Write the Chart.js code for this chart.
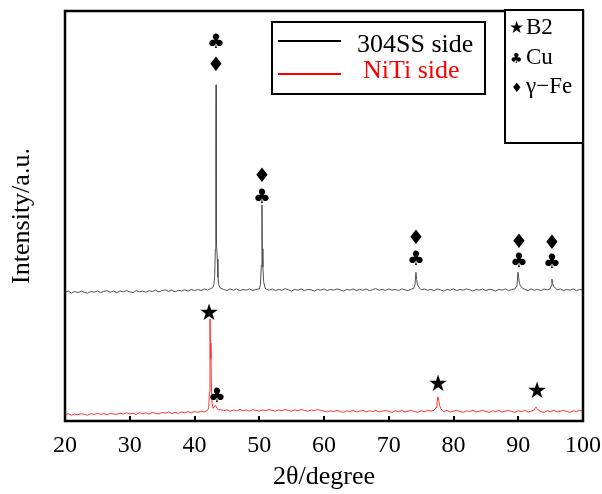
<!DOCTYPE html>
<html><head><meta charset="utf-8">
<script src="https://cdn.jsdelivr.net/npm/chart.js@4/dist/chart.umd.min.js"></script>
<style>html,body{margin:0;padding:0;background:#fff;overflow:hidden}</style>
</head><body>
<canvas id="c" width="602" height="494"></canvas>
<script>
// ---- data (2θ in degrees, intensity in arbitrary units) ----
const xTicks = [20, 30, 40, 50, 60, 70, 80, 90, 100];
const seriesLabels = ['304SS side', 'NiTi side'];
const xTitle = '2θ/degree';
const yTitle = 'Intensity/a.u.';

const ss304 = [[20,314],[20.5,317],[21,312],[21.5,316],[22,313],[22.5,317],[23,314],[23.5,312],[24,316],[24.5,314],[25,317],[25.5,313],[26,316],[26.5,318],[27,314],[27.5,317],[28,313],[28.5,317],[29,315],[29.5,318],[30,315],[30.5,313],[31,318],[31.5,315],[32,317],[32.5,314],[33,318],[33.5,316],[34,319],[34.5,315],[35,318],[35.5,320],[36,316],[36.5,319],[37,315],[37.5,319],[38,317],[38.5,320],[39,317],[39.5,321],[40,318],[40.5,321],[41,318],[41.5,322],[42,319],[42.5,323],[42.8,325],[43.0,333],[43.12,355],[43.22,420],[43.29,640],[43.33,820],[43.37,600],[43.43,430],[43.52,395],[43.62,350],[43.78,330],[44,324],[44.5,321],[45,318],[45.5,322],[46,319],[46.5,322],[47,318],[47.5,321],[48,319],[48.5,322],[49,318],[49.5,321],[50,322],[50.18,332],[50.32,380],[50.42,527],[50.48,420],[50.56,375],[50.68,340],[50.85,327],[51,322],[51.5,319],[52,322],[52.5,318],[53,321],[53.5,319],[54,323],[54.5,320],[55,317],[55.5,321],[56,319],[56.5,322],[57,318],[57.5,321],[58,320],[58.5,317],[59,321],[59.5,319],[60,322],[60.5,318],[61,321],[61.5,319],[62,322],[62.5,320],[63,317],[63.5,321],[64,319],[64.5,322],[65,318],[65.5,321],[66,319],[66.5,322],[67,318],[67.5,320],[68,323],[68.5,319],[69,321],[69.5,318],[70,322],[70.5,319],[71,321],[71.5,318],[72,322],[72.5,320],[73,318],[73.5,322],[73.85,323],[74.05,332],[74.2,363],[74.3,345],[74.45,332],[74.65,326],[74.85,323],[75,320],[75.5,322],[76,319],[76.5,321],[77,318],[77.5,322],[78,320],[78.5,317],[79,321],[79.5,319],[80,322],[80.5,318],[81,321],[81.5,319],[82,322],[82.5,320],[83,317],[83.5,321],[84,319],[84.5,322],[85,318],[85.5,321],[86,320],[86.5,317],[87,321],[87.5,319],[88,322],[88.5,318],[89,321],[89.5,322],[89.8,330],[89.96,363],[90.06,350],[90.2,335],[90.4,328],[90.7,324],[91,321],[91.5,318],[92,322],[92.5,319],[93,321],[93.5,318],[94,322],[94.5,320],[94.9,322],[95.08,330],[95.2,346],[95.3,336],[95.5,328],[95.8,323],[96,320],[96.5,322],[97,318],[97.5,321],[98,319],[98.5,322],[99,318],[99.5,321],[100,319]];

const niti = [[20,15],[20.5,18],[21,14],[21.5,17],[22,15],[22.5,18],[23,16],[23.5,14],[24,18],[24.5,16],[25,19],[25.5,16],[26,18],[26.5,15],[27,19],[27.5,17],[28,16],[28.5,19],[29,17],[29.5,20],[30,17],[30.5,19],[31,16],[31.5,20],[32,18],[32.5,20],[33,17],[33.5,21],[34,19],[34.5,17],[35,21],[35.5,19],[36,22],[36.5,18],[37,21],[37.5,19],[38,22],[38.5,20],[39,23],[39.5,20],[40,23],[40.5,21],[41,24],[41.5,22],[42,26],[42.2,32],[42.3,70],[42.39,249],[42.46,190],[42.54,150],[42.62,80],[42.72,42],[42.88,31],[43.05,34],[43.2,38],[43.35,35],[43.5,30],[43.75,27],[44,28],[44.5,25],[45,27],[45.5,24],[46,27],[46.5,25],[47,28],[47.5,25],[48,27],[48.5,24],[49,28],[49.5,26],[50,24],[50.5,27],[51,25],[51.5,28],[52,26],[52.5,24],[53,27],[53.5,25],[54,28],[54.5,26],[55,24],[55.5,27],[56,25],[56.5,28],[57,26],[57.5,24],[58,27],[58.5,25],[59,28],[59.5,26],[60,24],[60.5,22],[61,25],[61.5,23],[62,26],[62.5,23],[63,21],[63.5,25],[64,23],[64.5,26],[65,22],[65.5,24],[66,26],[66.5,22],[67,25],[67.5,23],[68,26],[68.5,22],[69,24],[69.5,26],[70,23],[70.5,21],[71,25],[71.5,23],[72,26],[72.5,22],[73,24],[73.5,26],[74,23],[74.5,21],[75,25],[75.5,23],[76,26],[76.5,24],[77,26],[77.3,33],[77.45,45],[77.6,59],[77.72,50],[77.85,38],[78.05,30],[78.3,25],[78.5,23],[79,26],[79.5,22],[80,24],[80.5,26],[81,23],[81.5,21],[82,25],[82.5,23],[83,26],[83.5,22],[84,24],[84.5,26],[85,23],[85.5,21],[86,25],[86.5,23],[87,26],[87.5,22],[88,24],[88.5,26],[89,23],[89.5,21],[90,25],[90.5,23],[91,26],[91.5,22],[92,24],[92.4,26],[92.6,31],[92.75,34],[92.9,30],[93.15,26],[93.5,23],[94,21],[94.5,25],[95,23],[95.5,26],[96,22],[96.5,24],[97,26],[97.5,23],[98,21],[98.5,25],[99,23],[99.5,26],[100,24]];

// peak identification symbols: 2θ, intensity, phase symbol
const peakX = [43.32, 43.32, 50.42, 50.42, 74.2, 74.2, 90.1, 90.1, 95.2, 95.2, 42.24, 43.47, 77.6, 92.9];
const peakY = [922, 866, 595, 544, 444, 393, 434, 388, 432, 385, 261, 59, 88, 71];
const peakSym = ['♣','♦','♦','♣','♦','♣','♦','♣','♦','♣','★','♣','★','★'];

const phaseSymbols = ['★', '♣', '♦'];
const phaseNames = ['B2', 'Cu', 'γ−Fe'];

const SERIF = '"Liberation Serif", "Times New Roman", serif';
const SYM = '"DejaVu Sans", sans-serif';

const framePlugin = {
  id: 'frame',
  afterDatasetsDraw(chart) {
    const {ctx, chartArea: a, scales} = chart;
    ctx.save();
    ctx.strokeStyle = '#000';
    ctx.lineWidth = 2.5;
    ctx.strokeRect(a.left, a.top, a.right - a.left, a.bottom - a.top);
    ctx.lineWidth = 2;
    xTicks.forEach(v => {
      const px = Math.round(scales.x.getPixelForValue(v));
      ctx.beginPath();
      ctx.moveTo(px, a.bottom);
      ctx.lineTo(px, a.bottom - 5);
      ctx.stroke();
    });
    ctx.restore();
  }
};

const marksPlugin = {
  id: 'marks',
  afterDatasetsDraw(chart) {
    const {ctx, scales} = chart;
    ctx.save();
    ctx.fillStyle = '#000';
    ctx.textAlign = 'center';
    ctx.textBaseline = 'middle';
    peakX.forEach((xv, i) => {
      const s = peakSym[i];
      ctx.font = (s === '★' ? '23px ' : '20px ') + SYM;
      ctx.fillText(s, scales.x.getPixelForValue(xv), scales.y.getPixelForValue(peakY[i]));
    });
    ctx.restore();
  }
};

const legendPlugin = {
  id: 'customLegends',
  afterDraw(chart) {
    const {ctx} = chart;
    const ds = chart.data.datasets;
    ctx.save();
    // series legend
    ctx.fillStyle = '#fff';
    ctx.fillRect(272, 22, 213, 72);
    ctx.strokeStyle = '#000';
    ctx.lineWidth = 2;
    ctx.strokeRect(272, 22, 213, 72);
    const rowsY = [41, 74];
    const textX = [357, 363];
    const textY = [52, 78];
    const legendColors = ['#000', '#ff0000'];
    ds.forEach((d, i) => {
      ctx.strokeStyle = legendColors[i];
      ctx.lineWidth = 2;
      ctx.beginPath();
      ctx.moveTo(278, rowsY[i]);
      ctx.lineTo(341, rowsY[i]);
      ctx.stroke();
      ctx.fillStyle = legendColors[i];
      ctx.font = '26px ' + SERIF;
      ctx.textAlign = 'left';
      ctx.textBaseline = 'alphabetic';
      ctx.fillText(d.label, textX[i], textY[i]);
    });
    // phase legend
    ctx.fillStyle = '#fff';
    ctx.fillRect(505, 10, 78, 133);
    ctx.strokeStyle = '#000';
    ctx.lineWidth = 2;
    ctx.strokeRect(505, 10, 78, 133);
    const baseY = [34, 64, 93];
    const symSize = [17, 14, 13];
    const symX = [509, 510, 511];
    phaseSymbols.forEach((s, i) => {
      ctx.fillStyle = '#000';
      ctx.textBaseline = 'alphabetic';
      ctx.textAlign = 'left';
      ctx.font = symSize[i] + 'px ' + SYM;
      ctx.fillText(s, symX[i], baseY[i] - 1);
      ctx.font = '23px ' + SERIF;
      ctx.fillText(phaseNames[i], 526, baseY[i]);
    });
    ctx.restore();
  }
};

new Chart(document.getElementById('c'), {
  type: 'line',
  data: {
    datasets: [
      {label: seriesLabels[0], data: ss304.map(([x, y]) => ({x, y})), borderColor: '#505050', borderWidth: 1, pointRadius: 0, tension: 0},
      {label: seriesLabels[1], data: niti.map(([x, y]) => ({x, y})), borderColor: '#ff3030', borderWidth: 1, pointRadius: 0, tension: 0}
    ]
  },
  options: {
    responsive: false, animation: false, devicePixelRatio: 1,
    layout: {padding: {top: 11, right: 19, left: 0, bottom: 0}},
    plugins: {legend: {display: false}, tooltip: {enabled: false}},
    scales: {
      x: {
        type: 'linear', min: 20, max: 100,
        afterBuildTicks: s => { s.ticks = xTicks.map(v => ({value: v})); },
        ticks: {font: {family: SERIF, size: 24}, color: '#000', padding: 10, maxRotation: 0, autoSkip: false},
        grid: {display: false, drawTicks: false},
        border: {display: false},
        title: {display: true, text: xTitle, font: {family: SERIF, size: 26}, color: '#000', padding: {top: 0, bottom: 1}},
        afterFit: s => { s.height = 73; s.paddingLeft = 0; s.paddingRight = 0; }
      },
      y: {
        min: 0, max: 1000,
        ticks: {display: false},
        grid: {display: false, drawTicks: false},
        border: {display: false},
        title: {display: true, text: yTitle, font: {family: SERIF, size: 26}, color: '#000', padding: {top: 7, bottom: 0}},
        afterFit: s => { s.width = 65; s.paddingTop = 0; s.paddingBottom = 0; }
      }
    }
  },
  plugins: [framePlugin, marksPlugin, legendPlugin]
});
</script>
</body></html>
